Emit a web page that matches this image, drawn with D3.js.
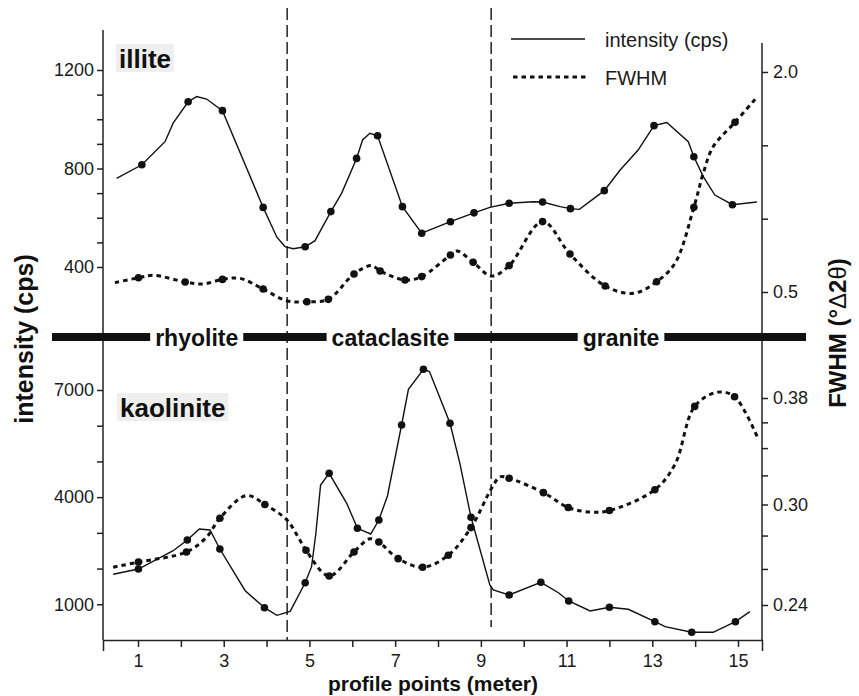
<!DOCTYPE html>
<html>
<head>
<meta charset="utf-8">
<script src="https://cdn.jsdelivr.net/npm/d3@7"></script>
<style>
body { margin: 0; background: #fff; }
svg { display: block; font-family: "Liberation Sans", Arial, Helvetica, sans-serif; }
.tick text { font-size: 18px; fill: #1a1a1a; }
.tick line { stroke: #222; stroke-width: 1.5; }
.domain { stroke: #222; stroke-width: 1.5; }
</style>
</head>
<body>
<div id="chart"></div>
<script>
// ---- data (profile position in meter, value) ----
var illiteIntensityLine = [[0.50,760],[1.09,815],[1.63,909],[1.82,984],[2.17,1071],[2.37,1092],[2.60,1082],[2.97,1035],
    [3.92,642],[4.24,521],[4.43,483],[4.62,474],[4.90,482],[5.13,507],[5.50,625],[5.75,699],[6.10,841],[6.24,916],
    [6.41,943],[6.59,933],[7.17,645],[7.62,537],[8.29,584],[8.84,620],[9.21,642],[9.66,659],[10.22,665],[10.44,664],
    [10.85,645],[11.09,637],[11.30,634],[11.88,710],[12.25,794],[12.67,875],[13.04,974],[13.34,987],[13.84,909],
    [13.97,848],[14.19,767],[14.46,692],[14.87,653],[15.44,664]];
var illiteIntensityDots = [[1.09,815],[2.17,1071],[2.97,1035],[3.92,642],[4.90,482],[5.50,625],[6.10,841],[6.59,933],
    [7.17,645],[7.62,537],[8.29,584],[8.84,620],[9.66,659],[10.44,664],[11.09,637],[11.88,710],[13.04,974],
    [13.97,848],[14.87,653]];

var illiteFwhmLine = [[0.46,0.564],[1.01,0.597],[1.36,0.614],[2.10,0.568],[2.52,0.555],[2.97,0.586],[3.38,0.593],
    [3.92,0.52],[4.47,0.44],[4.94,0.434],[5.44,0.45],[6.04,0.623],[6.45,0.68],[6.65,0.643],[7.23,0.582],[7.62,0.605],
    [8.29,0.752],[8.44,0.78],[8.82,0.703],[9.25,0.609],[9.66,0.68],[10.44,0.98],[11.08,0.759],[11.90,0.541],
    [12.56,0.491],[13.10,0.570],[13.53,0.696],[13.97,1.077],[14.19,1.31],[14.42,1.49],[14.93,1.657],[15.40,1.814]];
var illiteFwhmDots = [[1.01,0.597],[2.10,0.568],[2.97,0.586],[3.92,0.52],[4.94,0.434],[5.44,0.45],[6.04,0.623],
    [6.65,0.643],[7.23,0.582],[7.62,0.605],[8.29,0.752],[8.82,0.703],[9.66,0.68],[10.44,0.98],[11.08,0.759],
    [11.90,0.541],[13.10,0.570],[13.97,1.077],[14.93,1.657]];

var kaoliniteIntensityLine = [[0.42,1840],[1.01,1988],[1.82,2500],[2.15,2800],[2.43,3108],[2.68,3080],[2.91,2548],
    [3.50,1380],[3.95,905],[4.24,691],[4.55,800],[4.90,1604],[5.05,2053],[5.15,2988],[5.26,4340],[5.46,4668],
    [5.87,3828],[6.12,3128],[6.43,2968],[6.62,3360],[6.82,4032],[7.15,6020],[7.31,7020],[7.66,7580],[7.80,7515],
    [8.28,6068],[8.51,4948],[8.77,3436],[9.21,1540],[9.29,1400],[9.66,1260],[10.40,1616],[10.81,1324],[11.05,1092],
    [11.55,812],[12.00,916],[12.44,860],[13.06,513],[13.30,373],[13.92,216],[14.42,216],[14.94,513],[15.28,793]];
var kaoliniteIntensityDots = [[1.01,1988],[2.15,2800],[2.91,2548],[3.95,905],[4.90,1604],[5.46,4668],[6.12,3128],
    [6.62,3360],[7.15,6020],[7.66,7580],[8.28,6068],[8.77,3436],[9.66,1260],[10.40,1616],[11.05,1092],[12.00,916],
    [13.06,513],[13.92,216],[14.94,513]];

var kaoliniteFwhmLine = [[0.42,0.261],[1.01,0.264],[2.13,0.270],[2.60,0.279],[2.91,0.291],[3.53,0.306],[3.96,0.300],
    [4.47,0.290],[4.78,0.277],[4.92,0.271],[5.46,0.256],[6.04,0.270],[6.41,0.278],[6.62,0.276],[7.07,0.266],
    [7.64,0.261],[8.24,0.268],[8.77,0.285],[9.25,0.311],[9.45,0.319],[9.66,0.318],[10.46,0.308],[11.04,0.298],
    [11.55,0.295],[12.00,0.296],[13.06,0.310],[13.53,0.328],[13.99,0.373],[14.53,0.385],[14.92,0.381],[15.47,0.347]];
var kaoliniteFwhmDots = [[1.01,0.264],[2.13,0.270],[2.91,0.291],[3.96,0.300],[4.92,0.271],[5.46,0.256],[6.04,0.270],
    [6.62,0.276],[7.07,0.266],[7.64,0.261],[8.24,0.268],[8.77,0.285],[9.66,0.318],[10.46,0.308],[11.04,0.298],
    [12.00,0.296],[13.06,0.310],[13.99,0.373],[14.92,0.381]];

// zone boundaries and lithology labels
var boundaries = [4.48, 9.24];
var lithologies = ["rhyolite", "cataclasite", "granite"];
var lithologyCenters = [2.37, 6.89, 12.27];

// ticks
var xTicks = d3.range(1, 16);
var illiteIntensityTicks = d3.range(400, 1201, 100);
var illiteIntensityLabels = [400, 800, 1200];
var illiteFwhmTicks = [0.5, 1.0, 1.5, 2.0];
var illiteFwhmLabels = [0.5, 2.0];
var kaoliniteIntensityTicks = d3.range(1000, 7001, 1000);
var kaoliniteIntensityLabels = [1000, 4000, 7000];
var kaoliniteFwhmTicks = [0.24, 0.26, 0.28, 0.30, 0.32, 0.34, 0.36, 0.38];
var kaoliniteFwhmLabels = [0.24, 0.30, 0.38];

var W = 859, H = 696;
var AX_L = 103, AX_R = 762, AX_B = 640;

var svg = d3.select("#chart").append("svg")
    .attr("width", W)
    .attr("height", H);

// scales
var x = d3.scaleLinear().domain([0.183, 15.56]).range([AX_L, AX_R]);
var yTopI = d3.scaleLinear().domain([400, 1200]).range([267, 70]);
var yTopF = d3.scaleLinear().domain([0.5, 2.0]).range([292, 72]);
var yBotI = d3.scaleLinear().domain([0, 7000]).range([AX_B, 390]);
var yBotF = d3.scaleLog().domain([0.24, 0.38]).range([605, 398]);

// zone boundaries (dashed)
svg.selectAll("line.boundary")
    .data(boundaries)
    .enter()
    .append("line")
    .attr("x1", function(d) {return x(d);})
    .attr("x2", function(d) {return x(d);})
    .attr("y1", 8)
    .attr("y2", function(d, i) {return i === 0 ? AX_B : 627;})
    .attr("stroke", "#222")
    .attr("stroke-width", 1.5)
    .attr("stroke-dasharray", "12,5");

// axis lines
svg.append("line").attr("x1", AX_L).attr("x2", AX_L).attr("y1", 30).attr("y2", AX_B)
    .attr("stroke", "#222").attr("stroke-width", 1.5);
svg.append("line").attr("x1", AX_R).attr("x2", AX_R).attr("y1", 43).attr("y2", AX_B)
    .attr("stroke", "#222").attr("stroke-width", 1.5);

// x axis
svg.append("g")
    .attr("transform", "translate(0," + AX_B + ")")
    .call(d3.axisBottom(x)
        .tickValues(xTicks)
        .tickFormat(function(d) {return d % 2 ? d : "";})
        .tickSizeInner(7)
        .tickSizeOuter(11)
        .tickPadding(7));

function leftAxis(scale, ticks, labels) {
    var g = svg.append("g")
        .attr("transform", "translate(" + AX_L + ",0)")
        .call(d3.axisLeft(scale)
            .tickValues(ticks)
            .tickFormat(function(d) {return labels.indexOf(d) >= 0 ? d : "";})
            .tickSize(6)
            .tickPadding(3));
    g.select(".domain").remove();
}

function rightAxis(scale, ticks, labels, fmt) {
    var g = svg.append("g")
        .attr("transform", "translate(" + AX_R + ",0)")
        .call(d3.axisRight(scale)
            .tickValues(ticks)
            .tickFormat(function(d) {return labels.indexOf(d) >= 0 ? d.toFixed(fmt) : "";})
            .tickSize(6)
            .tickPadding(5));
    g.select(".domain").remove();
}

leftAxis(yTopI, illiteIntensityTicks, illiteIntensityLabels);
leftAxis(yBotI, kaoliniteIntensityTicks, kaoliniteIntensityLabels);
rightAxis(yTopF, illiteFwhmTicks, illiteFwhmLabels, 1);
rightAxis(yBotF, kaoliniteFwhmTicks, kaoliniteFwhmLabels, 2);

// series
function drawSeries(lineData, dotData, yScale, dotted) {
    var line = d3.line()
        .x(function(d) {return x(d[0]);})
        .y(function(d) {return yScale(d[1]);})
        .curve(dotted ? d3.curveCatmullRom.alpha(0.5) : d3.curveLinear);

    svg.append("path")
        .datum(lineData)
        .attr("d", line)
        .attr("fill", "none")
        .attr("stroke", "#111")
        .attr("stroke-width", dotted ? 3 : 1.4)
        .attr("stroke-dasharray", dotted ? "4.5,4" : null);

    svg.append("g")
        .selectAll("circle")
        .data(dotData)
        .enter()
        .append("circle")
        .attr("cx", function(d) {return x(d[0]);})
        .attr("cy", function(d) {return yScale(d[1]);})
        .attr("r", 3.8)
        .attr("fill", "#111");
}

drawSeries(illiteFwhmLine, illiteFwhmDots, yTopF, true);
drawSeries(illiteIntensityLine, illiteIntensityDots, yTopI, false);
drawSeries(kaoliniteFwhmLine, kaoliniteFwhmDots, yBotF, true);
drawSeries(kaoliniteIntensityLine, kaoliniteIntensityDots, yBotI, false);

// lithology bar
svg.append("line")
    .attr("x1", 52).attr("x2", 806)
    .attr("y1", 337).attr("y2", 337)
    .attr("stroke", "#111")
    .attr("stroke-width", 8);

var lith = svg.selectAll("g.lith")
    .data(lithologies)
    .enter()
    .append("g")
    .classed("lith", true);

lith.append("text")
    .attr("x", function(d, i) {return x(lithologyCenters[i]);})
    .attr("y", 346)
    .attr("text-anchor", "middle")
    .attr("font-size", "23px")
    .attr("font-weight", "bold")
    .attr("fill", "#111")
    .text(function(d) {return d;});

lith.each(function() {
    var g = d3.select(this);
    var bb = g.select("text").node().getBBox();
    g.insert("rect", "text")
        .attr("x", bb.x - 5)
        .attr("y", 331)
        .attr("width", bb.width + 10)
        .attr("height", 12)
        .attr("fill", "#fff");
});

// mineral labels
function mineralLabel(name, lx, ly) {
    var g = svg.append("g");
    var t = g.append("text")
        .attr("x", lx)
        .attr("y", ly)
        .attr("font-size", "26px")
        .attr("font-weight", "bold")
        .attr("fill", "#111")
        .text(name);
    var bb = t.node().getBBox();
    g.insert("rect", "text")
        .attr("x", bb.x - 3)
        .attr("y", bb.y)
        .attr("width", bb.width + 6)
        .attr("height", bb.height - 2)
        .attr("fill", "#efefef");
}
mineralLabel("illite", 119, 68);
mineralLabel("kaolinite", 120, 417);

// legend
svg.append("line").attr("x1", 511).attr("x2", 585).attr("y1", 39).attr("y2", 39)
    .attr("stroke", "#111").attr("stroke-width", 1.4);
svg.append("line").attr("x1", 513).attr("x2", 588).attr("y1", 77).attr("y2", 77)
    .attr("stroke", "#111").attr("stroke-width", 3).attr("stroke-dasharray", "4.5,4");
svg.append("text").attr("x", 605).attr("y", 47).attr("font-size", "20px").attr("fill", "#1a1a1a")
    .text("intensity (cps)");
svg.append("text").attr("x", 605).attr("y", 85).attr("font-size", "20px").attr("fill", "#1a1a1a")
    .text("FWHM");

// axis titles
svg.append("text")
    .attr("transform", "translate(33,339) rotate(-90)")
    .attr("text-anchor", "middle")
    .attr("font-size", "25px")
    .attr("font-weight", "bold")
    .attr("fill", "#111")
    .text("intensity (cps)");

var rt = svg.append("text")
    .attr("transform", "translate(846,333) rotate(-90)")
    .attr("text-anchor", "middle")
    .attr("font-size", "24px")
    .attr("font-weight", "bold")
    .attr("fill", "#111");
rt.append("tspan").text("FWHM (°");
rt.append("tspan").attr("font-weight", "normal").text("Δ");
rt.append("tspan").text("2");
rt.append("tspan").attr("font-weight", "normal").text("θ");
rt.append("tspan").text(")");

svg.append("text")
    .attr("x", 433)
    .attr("y", 691)
    .attr("text-anchor", "middle")
    .attr("font-size", "21px")
    .attr("font-weight", "bold")
    .attr("fill", "#111")
    .text("profile points (meter)");
</script>
</body>
</html>
